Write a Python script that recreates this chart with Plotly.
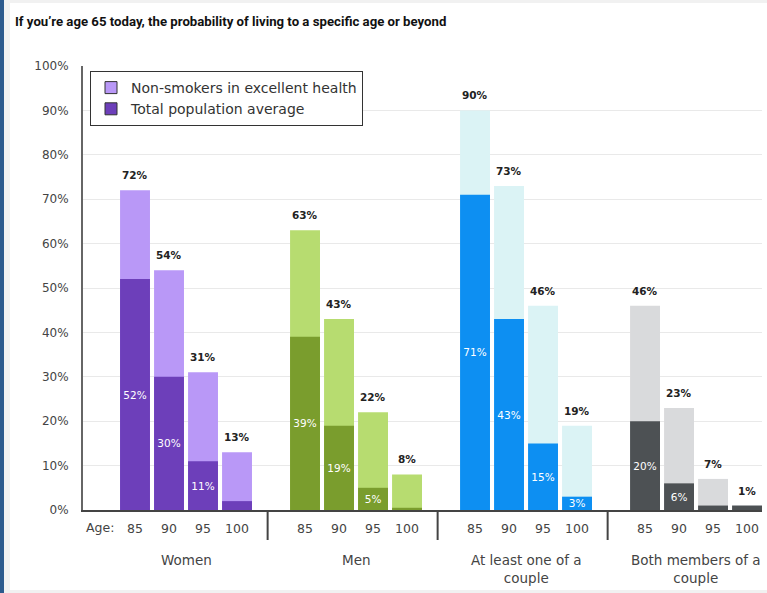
import plotly.graph_objects as go

title = "If you’re age 65 today, the probability of living to a specific age or beyond"
groups = ["Women", "Men", "At least one of a<br>couple", "Both members of a<br>couple"]
ages = ["85", "90", "95", "100"]
healthy = [72, 54, 31, 13, 63, 43, 22, 8, 90, 73, 46, 19, 46, 23, 7, 1]
average = [52, 30, 11, 2, 39, 19, 5, 0.5, 71, 43, 15, 3, 20, 6, 1, 1]
light_colors = ["#b998f7", "#b7dc70", "#dbf3f5", "#d9dadc"]
dark_colors = ["#6d3fba", "#7a9d2d", "#0d8ff2", "#4d5154"]
legend_names = ["Non-smokers in excellent health", "Total population average"]

GAP = 5
xs, tick_text, lc, dc = [], [], [], []
for g in range(len(groups)):
    for i, a in enumerate(ages):
        xs.append(g * GAP + i)
        tick_text.append(a)
        lc.append(light_colors[g])
        dc.append(dark_colors[g])

avg_text = [f"{v:g}%" if v >= 3 else "" for v in average]

FONT = "DejaVu Sans"
TFONT = "Roboto"
fig = go.Figure()
fig.add_trace(go.Bar(x=xs, y=healthy, marker=dict(color=lc, line=dict(width=0)),
                     width=0.88, showlegend=False, hoverinfo="skip"))
fig.add_trace(go.Bar(x=xs, y=average, marker=dict(color=dc, line=dict(width=0)),
                     width=0.88, showlegend=False, text=avg_text, textposition="inside",
                     insidetextanchor="middle", constraintext="none", textangle=0,
                     textfont=dict(color="white", size=10.5, family=FONT), hoverinfo="skip"))
# legend entries
for name, col in zip(legend_names, [light_colors[0], dark_colors[0]]):
    fig.add_trace(go.Bar(x=[None], y=[None], name=name,
                         marker=dict(color=col, line=dict(color="#333", width=1))))

# pixel -> paper helpers
L, R, T, B, W, H = 83, 5, 66, 83, 767, 593
pw, ph = W - L - R, H - T - B
def px(x):
    return (x - L) / pw
def py(y):
    return (H - B - y) / ph

annotations = []
for x, v in zip(xs, healthy):
    annotations.append(dict(x=x, y=v, xref="x", yref="y", text=f"{v}%", showarrow=False,
                            yanchor="middle", yshift=15,
                            font=dict(size=10.5, color="#222", family=FONT, weight=600)))
for g, name in enumerate(groups):
    annotations.append(dict(x=g * GAP + 1.5, y=-0.09, xref="x", yref="paper", text=name,
                            showarrow=False, yanchor="top",
                            font=dict(size=13.5, color="#444", family=FONT)))
annotations.append(dict(x=-0.55, y=-0.04, xref="x", yref="paper", text="Age:", showarrow=False,
                        xanchor="right", yanchor="middle",
                        font=dict(size=12.5, color="#444", family=FONT)))
annotations.append(dict(x=px(13), y=py(22), xref="paper", yref="paper", text=f"<b>{title}</b>",
                        showarrow=False, xanchor="left", yanchor="middle",
                        font=dict(size=13.2, color="#111", family=TFONT)))

shapes = [
    dict(type="rect", xref="paper", yref="paper", x0=px(0), x1=px(W), y0=py(0), y1=py(H),
         fillcolor="#f1f1f1", line=dict(width=0), layer="below"),
    dict(type="rect", xref="paper", yref="paper", x0=px(10), x1=px(W), y0=py(3), y1=py(590),
         fillcolor="white", line=dict(width=0), layer="below"),
    dict(type="rect", xref="paper", yref="paper", x0=px(0), x1=px(4), y0=py(0), y1=py(H),
         fillcolor="#2c5a8d", line=dict(width=0), layer="below"),
]
for g in range(1, len(groups)):
    sx = g * GAP - 1.1
    shapes.append(dict(type="line", xref="x", yref="paper", x0=sx, x1=sx, y0=0, y1=-30 / ph,
                       line=dict(color="#444", width=2)))

fig.update_layout(
    width=W, height=H,
    margin=dict(l=L, r=R, t=T, b=B),
    barmode="overlay",
    paper_bgcolor="white", plot_bgcolor="rgba(0,0,0,0)",
    font=dict(family=FONT, color="#444", size=12),
    showlegend=True,
    legend=dict(x=px(90), y=py(71), xanchor="left", yanchor="top",
                bordercolor="#333", borderwidth=1, bgcolor="white",
                font=dict(size=14, color="#333", family=FONT),
                itemwidth=30, tracegroupgap=0),
    xaxis=dict(range=[-1.53, 18.44], tickmode="array", tickvals=xs, ticktext=tick_text,
               showline=True, linecolor="#444", linewidth=2, showgrid=False, zeroline=False,
               ticks="outside", ticklen=6, tickcolor="rgba(0,0,0,0)",
               tickfont=dict(size=12.5, color="#444", family=FONT), fixedrange=True),
    yaxis=dict(range=[0, 100], tickvals=list(range(0, 101, 10)),
               ticktext=[f"{v}%" for v in range(0, 101, 10)],
               showline=True, linecolor="#666", linewidth=2, showgrid=True, gridcolor="#e9e9e9",
               gridwidth=1, zeroline=False, ticks="outside", ticklen=10,
               tickcolor="rgba(0,0,0,0)",
               tickfont=dict(size=12, color="#444", family=FONT), fixedrange=True),
    annotations=annotations,
    shapes=shapes,
)

fig.write_html("out.html", config={"displayModeBar": False},
               post_script="document.body.style.margin='0';document.body.style.overflow='hidden';")
